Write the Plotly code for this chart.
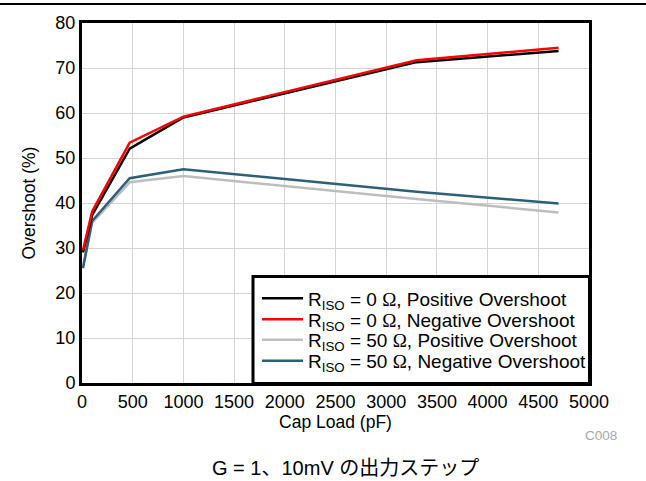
import plotly.graph_objects as go

cap_pf = [10, 100, 470, 1000, 3300, 4700]
r0_pos = [29.0, 37.3, 52.1, 59.0, 71.3, 73.8]
r0_neg = [29.5, 38.1, 53.4, 59.2, 71.7, 74.5]
r50_pos = [26.0, 35.6, 44.6, 46.0, 40.9, 37.9]
r50_neg = [25.5, 36.0, 45.5, 47.5, 42.5, 39.9]

omega = "<span style='font-family:Liberation Serif'>Ω</span>"
names = [
    f"R<sub>ISO</sub> = 0 {omega}, Positive Overshoot",
    f"R<sub>ISO</sub> = 0 {omega}, Negative Overshoot",
    f"R<sub>ISO</sub> = 50 {omega}, Positive Overshoot",
    f"R<sub>ISO</sub> = 50 {omega}, Negative Overshoot",
]
colors = ["#000000", "#ff0000", "#bdbdbd", "#2e5f78"]
series = [r0_pos, r0_neg, r50_pos, r50_neg]
legend_ids = ["legend", "legend2", "legend3", "legend4"]

# plot area in pixels (for converting reference positions to paper coords)
L, R, T, B = 82, 589, 23, 383
W, H = R - L, B - T


def px(x):
    return (x - L) / W


def py(y):
    return (B - y) / H


fig = go.Figure()
order = [2, 3, 0, 1]  # red drawn over black
for i in order:
    fig.add_trace(go.Scatter(x=cap_pf, y=series[i], mode="lines", name=names[i],
                             line=dict(color=colors[i], width=2.5), legend=legend_ids[i]))

font = "Liberation Sans, Arial, sans-serif"
row_y = [298.5, 319.3, 340.0, 360.8]
legends = {}
for k, lid in enumerate(legend_ids):
    legends[lid] = dict(x=px(257), y=py(row_y[k]), xanchor="left", yanchor="middle",
                        bgcolor="rgba(0,0,0,0)", borderwidth=0,
                        font=dict(size=19, family=font, color="black"),
                        itemwidth=41)

fig.update_layout(
    width=646, height=481,
    margin=dict(l=L, r=646 - R, t=T, b=481 - B),
    paper_bgcolor="white", plot_bgcolor="white",
    font=dict(family=font, size=18, color="#000000"),
    showlegend=True,
    **legends,
    xaxis=dict(range=[0, 5000], dtick=500, showgrid=True, gridcolor="#d4d4d4", gridwidth=1,
               showline=True, linecolor="black", linewidth=3, mirror=True,
               ticks="", tickfont=dict(size=18), zeroline=False, automargin=False,
               title=dict(text="Cap Load (pF)", font=dict(size=17.5), standoff=3)),
    yaxis=dict(range=[0, 80], dtick=10, showgrid=True, gridcolor="#d4d4d4", gridwidth=1,
               showline=True, linecolor="black", linewidth=3, mirror=True,
               ticks="", tickfont=dict(size=18), zeroline=False, automargin=False,
               title=dict(text="Overshoot (%)", font=dict(size=17.5), standoff=16)),
    shapes=[
        dict(type="line", xref="paper", yref="paper", x0=-0.2, x1=1.2,
             y0=py(4), y1=py(4), line=dict(color="black", width=2)),
        dict(type="rect", xref="paper", yref="paper", x0=px(253), x1=px(589.5),
             y0=py(383.5), y1=py(276.5), fillcolor="white", layer="above",
             line=dict(color="black", width=3)),
    ],
    annotations=[
        dict(text="C008", xref="paper", yref="paper", x=px(601), y=py(435),
             showarrow=False, font=dict(size=13.5, color="#a8a8a8"), xanchor="center", yanchor="middle"),
        dict(text="G = 1、10mV の出力ステップ", xref="paper", yref="paper",
             x=px(345.5), y=py(468), showarrow=False,
             font=dict(size=20, family="Liberation Sans, Noto Sans CJK JP", color="black"),
             xanchor="center", yanchor="middle"),
    ],
)
fig.write_html("out.html", config={"displayModeBar": False},
               post_script="document.body.style.margin='0';document.body.style.overflow='hidden';")
